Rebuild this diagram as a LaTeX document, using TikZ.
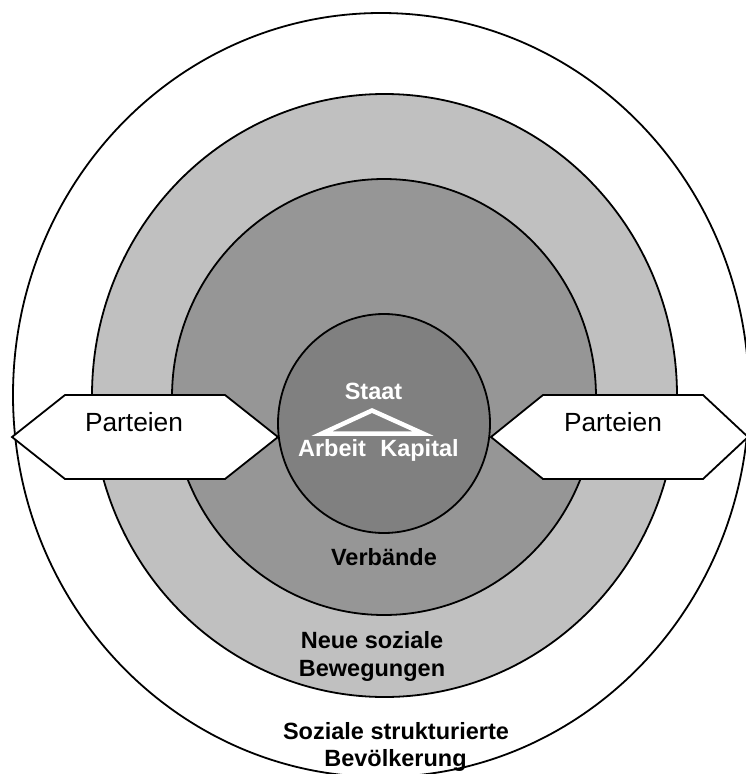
\documentclass[tikz,border=0pt]{standalone}
\usepackage{fontspec}
\setmainfont{Liberation Sans}
\definecolor{ringA}{gray}{0.753}
\definecolor{ringB}{gray}{0.59}
\definecolor{ringC}{gray}{0.502}
\begin{document}
\begin{tikzpicture}[x=1pt,y=-1pt,
  ring/.style={draw=black,line width=1.8pt},
  hexbox/.style={draw=black,fill=white,line width=1.8pt,line join=miter},
  boldlbl/.style={font=\fontsize{23.5}{28}\selectfont\bfseries,inner sep=0pt,anchor=base},
  partlbl/.style={font=\fontsize{26.3}{30}\selectfont,inner sep=0pt,anchor=base}]
\useasboundingbox (0,0) rectangle (746,774);
\clip (0,0) rectangle (746,774);
\fill[white] (0,0) rectangle (746,774);
% rings
\path[ring,fill=white] (381,395) ellipse [x radius=368,y radius=382];
\path[ring,fill=ringA] (384.5,395.5) ellipse [x radius=292.5,y radius=301.5];
\path[ring,fill=ringB] (384,397) ellipse [x radius=212,y radius=218];
\path[ring,fill=ringC] (384,423.5) ellipse [x radius=106,y radius=109.5];
% hexagon boxes
\draw[hexbox] (12,437) -- (65,395) -- (225,395) -- (278,437) -- (225,479) -- (65,479) -- cycle;
\draw[hexbox] (491,437) -- (543,395) -- (703,395) -- (748,437) -- (703,479) -- (543,479) -- cycle;
\node[partlbl] (pl) at (134,431) {Parteien};
\node[partlbl] (pr) at (613,431) {Parteien};
% centre triangle
\draw[white,line width=4.5pt,line join=miter] (322,433.5) -- (372,410.5) -- (423,433.5) -- cycle;
\node[boldlbl,text=white] (staat) at (373.5,399) {Staat};
\node[boldlbl,text=white] (arbeit) at (332,456) {Arbeit};
\node[boldlbl,text=white] (kapital) at (419.5,456) {Kapital};
% ring labels
\node[boldlbl] (verb) at (384,565) {Verbände};
\node[boldlbl] (nsb1) at (372,648) {Neue soziale};
\node[boldlbl] (nsb2) at (372,676) {Bewegungen};
\node[boldlbl] (ssb1) at (396,739) {Soziale strukturierte};
\node[boldlbl] (ssb2) at (395.5,766) {Bevölkerung};
\end{tikzpicture}
\end{document}
